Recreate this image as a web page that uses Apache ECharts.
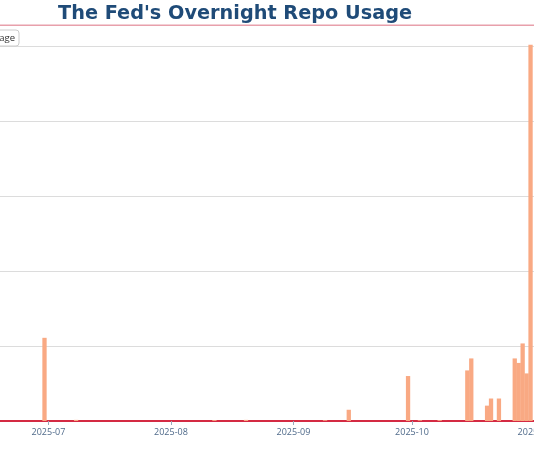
<!DOCTYPE html>
<html>
<head>
<meta charset="utf-8">
<script src="https://cdn.jsdelivr.net/npm/echarts@6/dist/echarts.min.js"></script>
<style>
html,body{margin:0;padding:0;background:#fff;}
#c{width:534px;height:462px;}
</style>
</head>
<body>
<div id="c"></div>
<script>
// Data (USD billions)
const dates = ['2025-06-30','2025-07-08','2025-08-12','2025-08-20','2025-09-09','2025-09-15','2025-09-30','2025-10-03','2025-10-08','2025-10-15','2025-10-16','2025-10-20','2025-10-21','2025-10-23','2025-10-27','2025-10-28','2025-10-29','2025-10-30','2025-10-31'];
const usage = [11.1,0.15,0.12,0.15,0.1,1.5,6.0,0.1,0.12,6.75,8.35,2.05,3.0,3.0,8.35,7.75,10.35,6.35,50.2];
const seriesName = 'Repo Usage';
const titleText = "The Fed's Overnight Repo Usage";

const chart = echarts.init(document.getElementById('c'), null, {renderer:'canvas'});
chart.setOption({
  backgroundColor: '#ffffff',
  animation: false,
  title: {
    text: titleText,
    left: 58,
    top: 4,
    padding: 0,
    textStyle: {fontFamily: 'DejaVu Sans', fontWeight: 'bold', fontSize: 19.3, color: '#1f4b78'}
  },
  legend: {
    data: [seriesName],
    right: 515,
    top: 30,
    padding: [3, 4, 3, 4],
    icon: 'rect',
    itemWidth: 12,
    itemHeight: 8,
    borderColor: '#cccccc',
    borderWidth: 1,
    borderRadius: 3,
    backgroundColor: '#ffffff',
    textStyle: {fontFamily: 'Open Sans', fontSize: 9.5, color: '#333'}
  },
  grid: {left: -72.25, right: -121.2, top: 25.3, bottom: 41, containLabel: false, outerBoundsMode: 'none'},
  xAxis: {
    type: 'time',
    min: '2025-06-01',
    max: '2025-12-01',
    splitNumber: 6,
    minInterval: 28 * 86400000,
    maxInterval: 31 * 86400000,
    axisLine: {show: true, lineStyle: {color: '#d42a43', width: 2}},
    axisTick: {show: true, length: 4, lineStyle: {color: '#9aa9bb'}},
    axisLabel: {formatter: '{yyyy}-{MM}', fontFamily: 'Open Sans', fontSize: 9, color: '#4f6a8a', margin: 7},
    splitLine: {show: false}
  },
  yAxis: {
    type: 'value',
    min: 0,
    max: 52.8,
    interval: 10,
    axisLabel: {show: false},
    axisLine: {show: false},
    axisTick: {show: false},
    splitLine: {show: true, lineStyle: {color: '#dcdcdc', width: 1}}
  },
  series: [{
    name: seriesName,
    type: 'bar',
    barWidth: 4.3,
    clip: false,
    itemStyle: {color: '#f9a983'},
    data: dates.map((d, i) => [d, usage[i]])
  }],
  graphic: [{
    type: 'line',
    z: 100,
    shape: {x1: 0, y1: 25.3, x2: 534, y2: 25.3},
    style: {stroke: '#e8a0ab', lineWidth: 1.5}
  }]
});
</script>
</body>
</html>
